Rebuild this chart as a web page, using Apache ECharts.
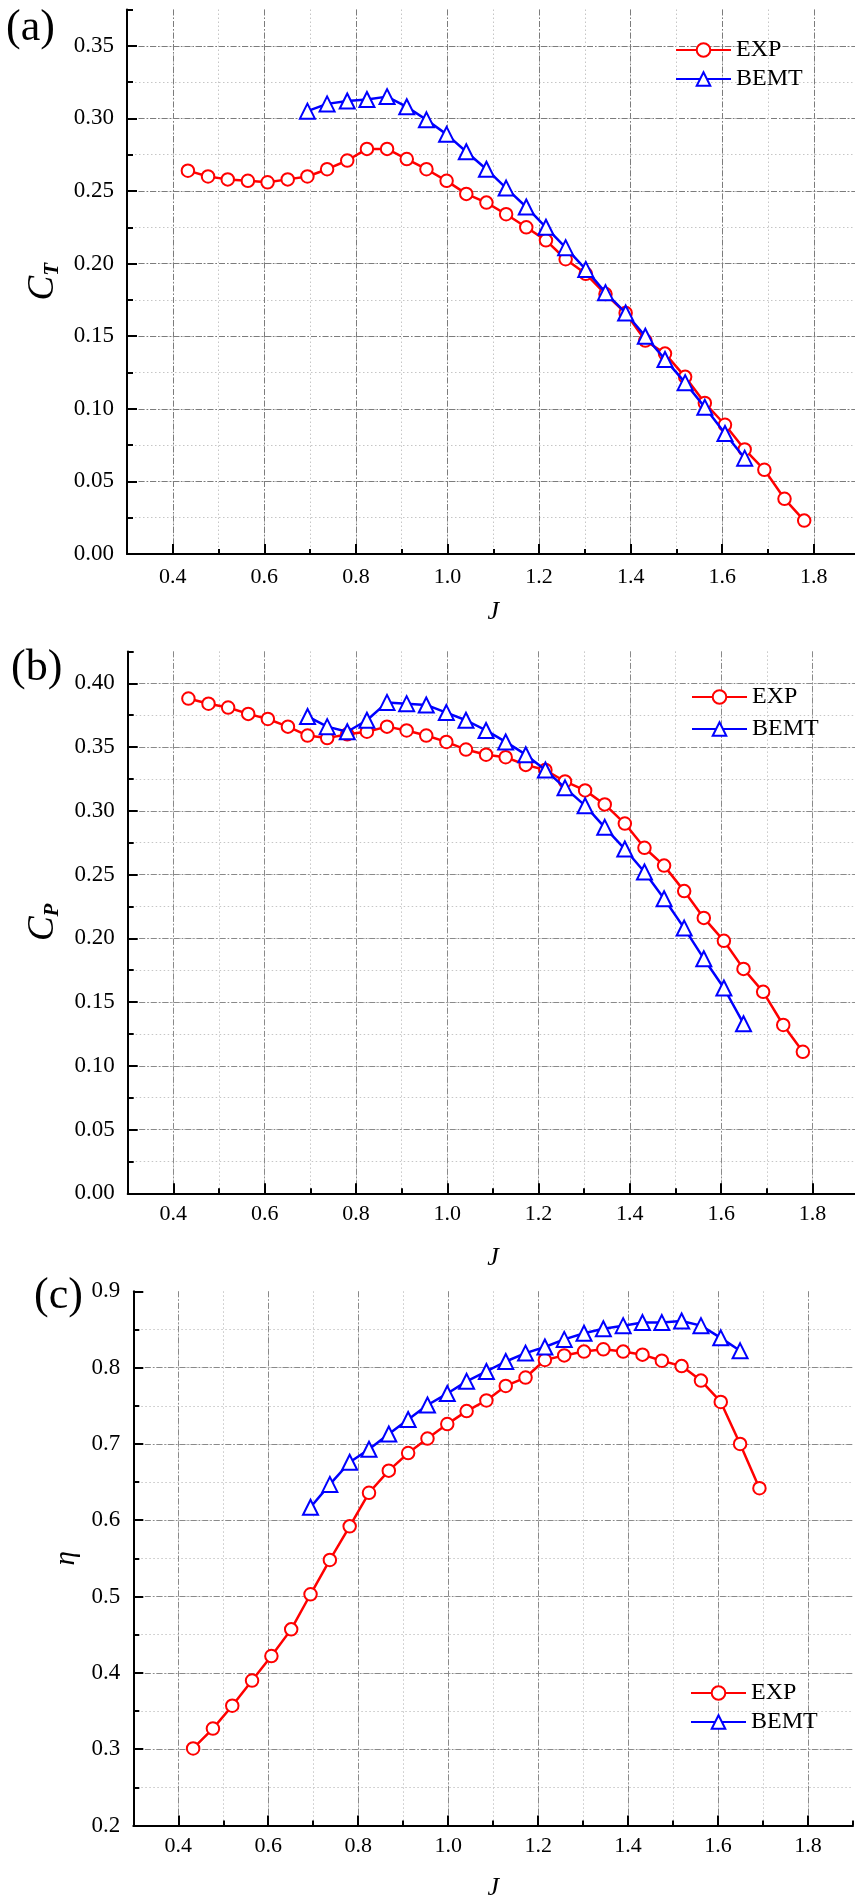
<!DOCTYPE html>
<html>
<head>
<meta charset="utf-8">
<script src="https://cdn.jsdelivr.net/npm/echarts@6/dist/echarts.min.js"></script>
<style>
html,body{margin:0;padding:0;background:#fff;}
#main{width:855px;height:1899px;}
</style>
</head>
<body>
<div id="main"></div>
<script>
// ---- data ----
const J = [0.433,0.477,0.520,0.564,0.607,0.651,0.694,0.737,0.781,0.824,0.868,0.911,0.954,0.998,1.041,1.085,1.128,1.172,1.215,1.258,1.302,1.345,1.389,1.432,1.475,1.519,1.562,1.606,1.649,1.692,1.736,1.779];
const J_BEMT = [0.694,0.737,0.781,0.824,0.868,0.911,0.954,0.998,1.041,1.085,1.128,1.172,1.215,1.258,1.302,1.345,1.389,1.432,1.475,1.519,1.562,1.606,1.649];
const J_EXP_ETA = [0.433,0.477,0.520,0.564,0.607,0.651,0.694,0.737,0.781,0.824,0.868,0.911,0.954,0.998,1.041,1.085,1.128,1.172,1.215,1.258,1.302,1.345,1.389,1.432,1.475,1.519,1.562,1.606,1.649,1.692];

const CT_EXP  = [0.264,0.260,0.258,0.257,0.256,0.258,0.260,0.265,0.271,0.279,0.279,0.272,0.265,0.257,0.248,0.242,0.234,0.225,0.216,0.203,0.193,0.179,0.166,0.147,0.138,0.122,0.104,0.089,0.072,0.058,0.038,0.023];
const CT_BEMT = [0.305,0.310,0.312,0.313,0.315,0.308,0.299,0.289,0.277,0.265,0.252,0.239,0.225,0.211,0.196,0.180,0.166,0.150,0.134,0.118,0.101,0.083,0.066];

const CP_EXP  = [0.388,0.384,0.381,0.376,0.372,0.366,0.359,0.357,0.360,0.362,0.366,0.363,0.359,0.354,0.348,0.344,0.342,0.336,0.332,0.323,0.316,0.305,0.290,0.271,0.257,0.237,0.216,0.198,0.176,0.158,0.132,0.111];
const CP_BEMT = [0.374,0.366,0.362,0.371,0.385,0.384,0.383,0.377,0.371,0.363,0.354,0.344,0.332,0.318,0.304,0.287,0.270,0.252,0.231,0.208,0.184,0.161,0.133];

const ETA_EXP  = [0.301,0.327,0.357,0.390,0.422,0.457,0.503,0.548,0.592,0.636,0.665,0.688,0.707,0.726,0.743,0.757,0.776,0.787,0.810,0.816,0.821,0.824,0.821,0.817,0.809,0.802,0.783,0.755,0.700,0.642];
const ETA_BEMT = [0.617,0.647,0.676,0.693,0.713,0.732,0.751,0.766,0.782,0.795,0.808,0.819,0.827,0.837,0.845,0.851,0.855,0.859,0.859,0.861,0.855,0.839,0.822];

const SERIES_NAMES = ['EXP', 'BEMT'];
const PANEL_LABELS = ['(a)', '(b)', '(c)'];
const X_RANGE = [0.3, 1.9];
const Y_RANGES = [[0, 0.375], [0, 0.425], [0.2, 0.9]];
const Y_MAJOR = [0.05, 0.05, 0.1];
const Y_DECIMALS = [2, 2, 1];

// ---- styling / layout ----
const FONT = '"Liberation Serif", "Times New Roman", serif';
const RED = '#ff0000', BLUE = '#0000ff';
const grids = [
  {left: 127, top: 9.5, width: 732.6, height: 544.5},
  {left: 127.7, top: 651.4, width: 730.4, height: 541.9},
  {left: 133.3, top: 1291.3, width: 719.7, height: 534.2}
];
const majorColor = ['#7c7c7c', '#8a8a8a', '#8a8a8a'];
const minorColor = '#c6c6c6';
const xLabelMargin = [12, 10, 10];
const xNameGap = [45, 52, 50];
const yNameGap = [52, 52, 36];
const yNames = ['{c|C}{s|T}', '{c|C}{s|P}', '{e|η}'];
const legendPos = [
  {left: 670, top: 33, itemGap: 5},
  {left: 686, top: 680, itemGap: 8},
  {left: 685, top: 1676, itemGap: 5}
];

const xAxes = [], yAxes = [], series = [], legends = [], graphics = [];
const expSets = [[J, CT_EXP], [J, CP_EXP], [J_EXP_ETA, ETA_EXP]];
const bemtSets = [[J_BEMT, CT_BEMT], [J_BEMT, CP_BEMT], [J_BEMT, ETA_BEMT]];
const labelTops = [6, 646, 1274];
const labelLefts = [6, 11, 34];

for (let k = 0; k < 3; k++) {
  const [ymin, ymax] = Y_RANGES[k];
  // minor x axis (data axis)
  xAxes.push({
    type: 'value', gridIndex: k, position: 'bottom', offset: 0, min: X_RANGE[0], max: X_RANGE[1], interval: 0.1,
    axisLine: {show: true, onZero: false, lineStyle: {color: '#000', width: 2}},
    axisTick: {show: true, inside: true, length: 5, lineStyle: {color: '#000', width: 2}},
    axisLabel: {show: false},
    splitLine: {show: true, showMinLine: false, showMaxLine: false, lineStyle: {color: minorColor, width: 1, type: [1.5, 2.5]}},
    minorTick: {show: false}, minorSplitLine: {show: false}
  });
  // major x axis (decorative)
  xAxes.push({
    type: 'value', gridIndex: k, position: 'bottom', offset: 0, min: X_RANGE[0], max: X_RANGE[1], splitNumber: 8,
    axisLine: {show: false, onZero: false},
    axisTick: {show: true, inside: true, length: 10, lineStyle: {color: '#000', width: 2}},
    axisLabel: {show: true, showMinLabel: false, showMaxLabel: false, margin: xLabelMargin[k],
      color: '#000', fontFamily: FONT, fontSize: 22, formatter: v => v.toFixed(1)},
    splitLine: {show: true, showMinLine: false, showMaxLine: false, lineStyle: {color: majorColor[k], width: 1, type: [6, 2, 1.5, 2]}},
    name: 'J', nameLocation: 'middle', nameGap: xNameGap[k],
    nameTextStyle: {fontFamily: FONT, fontSize: 26, fontStyle: 'italic', color: '#000'}
  });
  // minor y axis (data axis)
  yAxes.push({
    type: 'value', gridIndex: k, position: 'left', offset: 0, min: ymin, max: ymax, interval: Y_MAJOR[k] / 2,
    axisLine: {show: true, onZero: false, lineStyle: {color: '#000', width: 2}},
    axisTick: {show: true, inside: true, length: 6, lineStyle: {color: '#000', width: 2}},
    axisLabel: {show: false},
    splitLine: {show: true, showMinLine: false, showMaxLine: false, lineStyle: {color: minorColor, width: 1, type: [1.5, 2.5]}}
  });
  // major y axis (decorative)
  yAxes.push({
    type: 'value', gridIndex: k, position: 'left', offset: 0, min: ymin, max: ymax, interval: Y_MAJOR[k],
    axisLine: {show: false, onZero: false},
    axisTick: {show: true, inside: true, length: 10, lineStyle: {color: '#000', width: 2}},
    axisLabel: {show: true, showMaxLabel: k === 2, margin: 13, color: '#000', fontFamily: FONT, fontSize: 23,
      formatter: v => v.toFixed(Y_DECIMALS[k])},
    splitLine: {show: true, showMinLine: false, showMaxLine: false, lineStyle: {color: majorColor[k], width: 1, type: [6, 2, 1.5, 2]}},
    name: yNames[k], nameLocation: 'middle', nameGap: yNameGap[k],
    nameTextStyle: {
      color: '#000', fontFamily: FONT,
      rich: {
        c: {fontFamily: FONT, fontSize: 37, fontStyle: 'italic', color: '#000', lineHeight: 40},
        s: {fontFamily: FONT, fontSize: 21, fontStyle: 'italic', fontWeight: 'bold', color: '#000', lineHeight: 40, verticalAlign: 'bottom', padding: [16, 0, 0, 0]},
        e: {fontFamily: FONT, fontSize: 29, fontStyle: 'italic', color: '#000'}
      }
    }
  });
  const exp = expSets[k], bemt = bemtSets[k];
  series.push({
    name: SERIES_NAMES[0], type: 'line', xAxisIndex: 2 * k, yAxisIndex: 2 * k,
    data: exp[0].map((x, i) => [x, exp[1][i]]),
    symbol: 'emptyCircle', symbolSize: 12.5, color: RED,
    lineStyle: {color: RED, width: 2.5}, itemStyle: {color: RED, borderColor: RED, borderWidth: 1.3},
    animation: false, z: 3
  });
  series.push({
    name: SERIES_NAMES[1], type: 'line', xAxisIndex: 2 * k, yAxisIndex: 2 * k,
    data: bemt[0].map((x, i) => [x, bemt[1][i]]),
    symbol: 'emptyTriangle', symbolSize: 15, color: BLUE,
    lineStyle: {color: BLUE, width: 2.5}, itemStyle: {color: BLUE, borderColor: BLUE, borderWidth: 1.3},
    animation: false, z: 4
  });
  legends.push({
    left: legendPos[k].left, top: legendPos[k].top, orient: 'vertical', itemGap: legendPos[k].itemGap,
    itemWidth: 55, itemHeight: 17, data: SERIES_NAMES, selectedMode: false,
    textStyle: {fontFamily: FONT, fontSize: 24, color: '#000', lineHeight: 24}
  });
  graphics.push({
    type: 'text', left: labelLefts[k], top: labelTops[k],
    style: {text: PANEL_LABELS[k], font: '44px ' + FONT, fill: '#000'}
  });
}

const chart = echarts.init(document.getElementById('main'), null, {renderer: 'canvas'});
chart.setOption({
  backgroundColor: '#fff',
  animation: false,
  grid: grids.map(g => Object.assign({outerBoundsMode: 'none', containLabel: false}, g)),
  xAxis: xAxes,
  yAxis: yAxes,
  series: series,
  legend: legends,
  graphic: graphics
});
</script>
</body>
</html>
